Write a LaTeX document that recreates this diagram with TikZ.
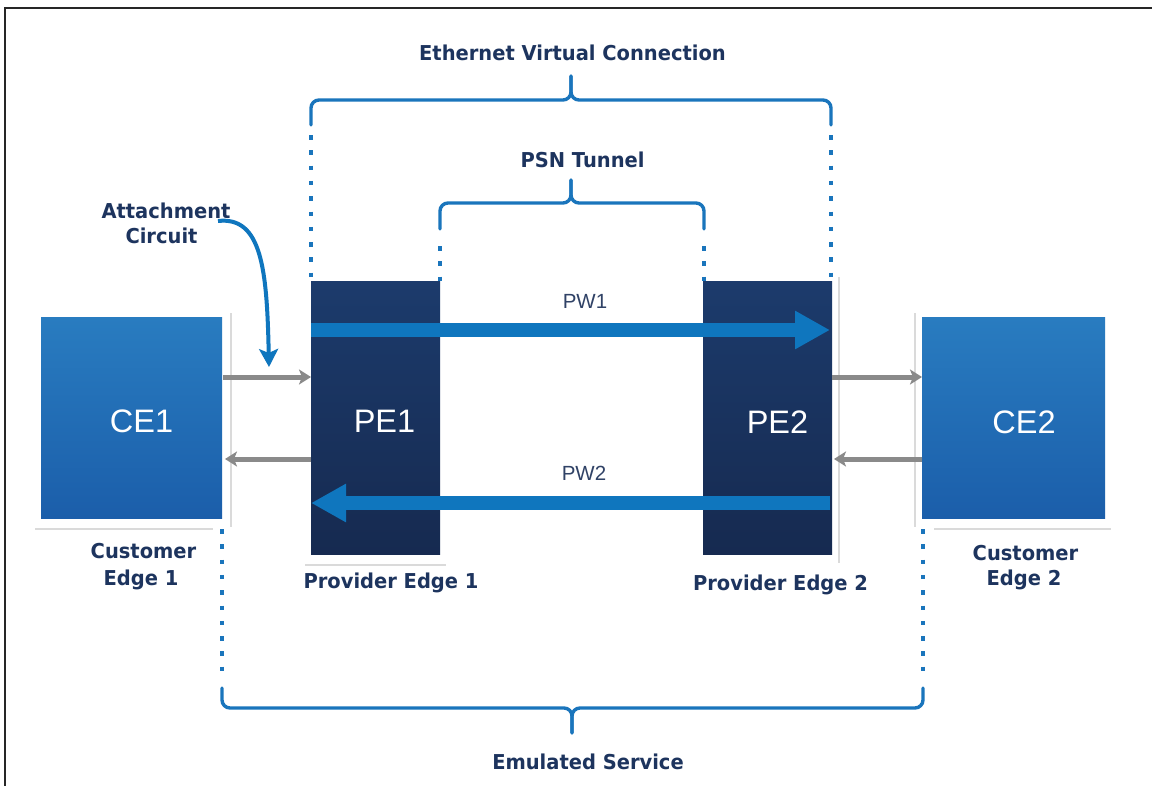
\documentclass[tikz,border=0pt]{standalone}
\usepackage{fontspec}
\setmainfont{DejaVu Sans}
\newfontfamily\lblfont[FakeStretch=0.95]{DejaVu Sans}
\newfontfamily\arialfont{Liberation Sans}
\usetikzlibrary{arrows.meta}
\definecolor{navytxt}{RGB}{29,52,94}
\definecolor{braceblue}{RGB}{26,117,188}
\definecolor{pwblue}{RGB}{15,118,190}
\definecolor{cetop}{RGB}{41,124,192}
\definecolor{cebot}{RGB}{27,94,170}
\definecolor{petop}{RGB}{28,59,108}
\definecolor{pebot}{RGB}{22,42,80}
\definecolor{arrgrey}{RGB}{138,138,138}
\definecolor{pwtxt}{RGB}{48,66,102}
\definecolor{shadowgrey}{RGB}{218,218,218}
\begin{document}
\begin{tikzpicture}[x=1pt,y=-1pt,
  cebox/.style={rectangle, draw=none, top color=cetop, bottom color=cebot,
    minimum width=181pt, minimum height=201pt, anchor=north west, inner sep=0pt, outer sep=0pt},
  pebox/.style={rectangle, draw=none, top color=petop, bottom color=pebot,
    minimum width=129pt, minimum height=273pt, anchor=north west, inner sep=0pt, outer sep=0pt},
  boxtext/.style={anchor=base, inner sep=0pt, text=white, font=\arialfont\fontsize{32.5}{36}\selectfont},
  lbl/.style={anchor=base, inner sep=0pt, text=navytxt, font=\lblfont\bfseries\fontsize{20.5}{25}\selectfont},
  pwlbl/.style={anchor=base, inner sep=0pt, text=pwtxt, font=\arialfont\fontsize{20.5}{24}\selectfont},
  brace/.style={draw=braceblue, line width=3.4pt, rounded corners=8pt, line cap=round},
  dotline/.style={draw=braceblue, line width=4.5pt, dash pattern=on 4.5pt off 10.8pt},
  greyarr/.style={draw=arrgrey, line width=5pt, -{Stealth[length=12pt,width=15pt,inset=3pt]}},
  pwarr/.style={draw=pwblue, line width=14pt, -{Triangle[length=35pt,width=36pt]}},
  attarr/.style={draw=pwblue, line width=4pt, -{Stealth[length=18pt,width=19pt,inset=4pt]}},
  shadowline/.style={draw=shadowgrey, line width=1.3pt}
]
\useasboundingbox (0,0) rectangle (1152,785);
\fill[white] (0,0) rectangle (1152,785);
% frame
\draw[line width=2.8pt, black!85] (5,800) -- (5,8) -- (1165,8);

% faint reflection lines
\draw[shadowline] (231,313) -- (231,527);
\draw[shadowline] (35,529) -- (213,529);
\draw[shadowline] (305,565) -- (446,565);
\draw[shadowline] (839,277) -- (839,563);
\draw[shadowline] (915,313) -- (915,527);
\draw[shadowline] (934,529) -- (1111,529);

% boxes
\node[cebox] (ce1) at (41,317) {};
\node[pebox] (pe1) at (311,281) {};
\node[pebox] (pe2) at (703,281) {};
\node[cebox, minimum width=183pt] (ce2) at (922,317) {};

\node[boxtext] (ce1t) at (141.5,432) {CE1};
\node[boxtext] (pe1t) at (384.5,432) {PE1};
\node[boxtext] (pe2t) at (777.5,433) {PE2};
\node[boxtext] (ce2t) at (1024,433) {CE2};

% level helpers
\coordinate (yA) at (0,377);
\coordinate (yB) at (0,459);
\coordinate (yP1) at (0,330);
\coordinate (yP2) at (0,503);

% grey attachment arrows
\draw[greyarr] ([xshift=1pt]ce1.east |- yA) -- (pe1.west |- yA);
\draw[greyarr] (pe1.west |- yB) -- ([xshift=3pt]ce1.east |- yB);
\draw[greyarr] (pe2.east |- yA) -- (ce2.west |- yA);
\draw[greyarr] (ce2.west |- yB) -- ([xshift=2pt]pe2.east |- yB);

% pseudowires
\draw[pwarr] (pe1.west |- yP1) -- ([xshift=-2pt]pe2.east |- yP1);
\draw[pwarr] ([xshift=-2pt]pe2.east |- yP2) -- (pe1.west |- yP2);
\node[pwlbl] (pw1) at (585,308) {PW1};
\node[pwlbl] (pw2) at (584,480) {PW2};

% EVC brace
\draw[brace] (311,125) -- (311,100) -- (571,100) -- (571,76);
\draw[brace] (831,125) -- (831,100) -- (571,100) -- (571,76);
\draw[dotline] (311,135) -- (311,278);
\draw[dotline] (831,135) -- (831,278);
\node[lbl] (evc) at (572.5,60) {Ethernet Virtual Connection};

% PSN brace
\draw[brace] (440,229) -- (440,203) -- (571,203) -- (571,180);
\draw[brace] (704,229) -- (704,203) -- (571,203) -- (571,180);
\draw[dotline] (440,246) -- (440,281);
\draw[dotline] (704,246) -- (704,281);
\node[lbl] (psn) at (582.5,167) {PSN Tunnel};

% Emulated service brace
\draw[brace] (222,688) -- (222,708) -- (572,708) -- (572,733);
\draw[brace] (923,688) -- (923,708) -- (572,708) -- (572,733);
\draw[dotline] (222,529) -- (222,671);
\draw[dotline] (923,529) -- (923,671);
\node[lbl] (emu) at (588,769) {Emulated Service};

% attachment circuit label and arrow
\node[lbl] (att1) at (166,218) {Attachment};
\node[lbl] (att2) at (161.5,243) {Circuit};
\coordinate (attstart) at (218,221);
\coordinate (atttip) at (269,367);
\draw[attarr] (attstart) .. controls (262,216) and (267,270) .. (atttip);

% edge labels
\node[lbl] (cust1a) at (143.5,558) {Customer};
\node[lbl] (cust1b) at (141,585) {Edge 1};
\node[lbl] (prov1) at (391,588) {Provider Edge 1};
\node[lbl] (prov2) at (780.5,590) {Provider Edge 2};
\node[lbl] (cust2a) at (1025.5,560) {Customer};
\node[lbl] (cust2b) at (1024,585) {Edge 2};
\end{tikzpicture}
\end{document}
